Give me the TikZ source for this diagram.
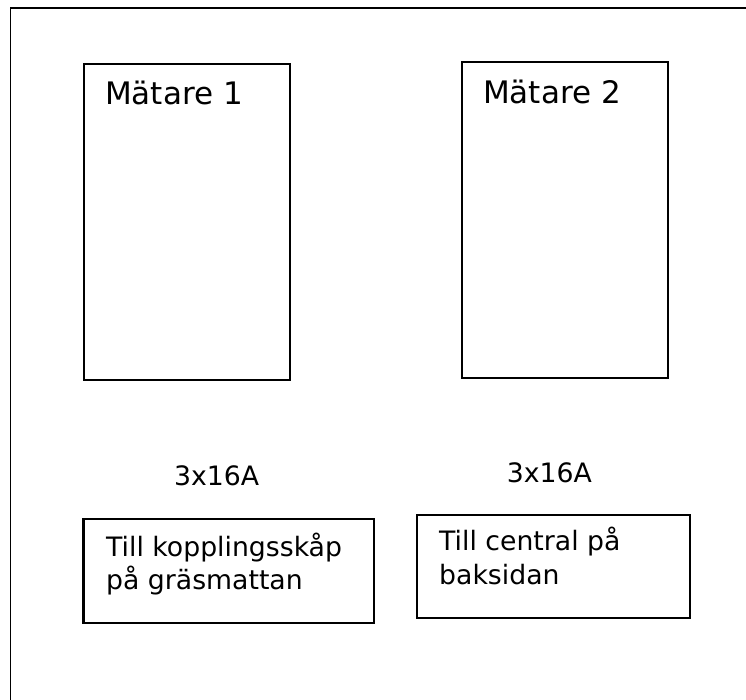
\documentclass[tikz,border=0pt]{standalone}
\usepackage{fontspec}
\setmainfont{DejaVu Sans}
\tikzset{
  box/.style={draw=black, line width=2.2pt, inner sep=0pt, outer sep=0pt},
  bigtxt/.style={anchor=base west, inner sep=0pt, font=\fontsize{31}{36}\selectfont},
  txt/.style={anchor=base west, inner sep=0pt, font=\fontsize{26.7}{33}\selectfont, align=left},
}
\begin{document}
\begin{tikzpicture}[x=1pt,y=-1pt]
\useasboundingbox (0,0) rectangle (746,700);
% outer frame (only top and left visible)
\draw[line width=1.6pt] (10.3,702) -- (10.3,8) -- (748,8);
% meter boxes
\node[box, minimum width=206pt, minimum height=316pt, anchor=north west] (m1) at (84,64.3) {};
\node[box, minimum width=206pt, minimum height=315.5pt, anchor=north west] (m2) at (462.3,62.2) {};
\node[bigtxt] (m1t) at (105,105) {Mätare 1};
\node[bigtxt] (m2t) at (483,103.3) {Mätare 2};
% ratings
\node[txt] (r1) at (174,485) {3x16A};
\node[txt] (r2) at (506.7,482.7) {3x16A};
% destination boxes
\node[box, minimum width=290.5pt, minimum height=103.7pt, anchor=north west] (d1) at (83.5,519) {};
\node[box, minimum width=273pt, minimum height=103pt, anchor=north west] (d2) at (417,515) {};
\node[txt] (d1a) at (106,556.7) {Till kopplingsskåp};
\node[txt] (d1b) at (106,589.3) {på gräsmattan};
\node[txt] (d2a) at (439,550) {Till central på};
\node[txt] (d2b) at (439,584) {baksidan};
\end{tikzpicture}
\end{document}
